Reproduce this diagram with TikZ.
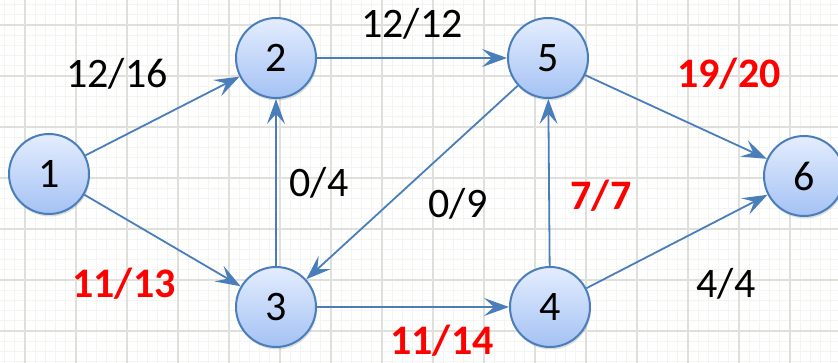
\documentclass[tikz,border=0pt]{standalone}
\usepackage{fontspec}
\setmainfont{Carlito}
\usetikzlibrary{arrows.meta,shadows}
\definecolor{edgeblue}{HTML}{4A7EBB}
\definecolor{nodetop}{HTML}{E4EDFE}
\definecolor{nodebot}{HTML}{A4C2F4}
\definecolor{gridmaj}{HTML}{E0E0DA}
\definecolor{gridmin}{HTML}{F4F4F0}
\begin{document}
\begin{tikzpicture}[x=1pt,y=-1pt,
  vert/.style={circle, draw=edgeblue, line width=2pt, minimum size=80pt, inner sep=0pt,
    top color=nodetop, bottom color=nodebot,
    drop shadow={opacity=0.25, shadow xshift=1pt, shadow yshift=-2.5pt},
    font=\fontsize{42}{46}\selectfont},
  flow/.style={draw=edgeblue, line width=1.8pt, -{Stealth[length=25pt,width=18pt,inset=10pt]}},
  lab/.style={anchor=base, inner sep=0pt, font=\fontsize{42}{46}\selectfont},
  redlab/.style={lab, text=red, font=\fontsize{42}{46}\selectfont\bfseries}]
\useasboundingbox (0,0) rectangle (838,363);
\clip (0,0) rectangle (838,363);
\fill[white] (0,0) rectangle (838,363);
% minor grid
\foreach \i in {0,...,85} {
  \draw[gridmin, line width=0.8pt] ({25+10.2*(\i-2)},0) -- ++(0,363);
}
\foreach \i in {0,...,37} {
  \draw[gridmin, line width=0.8pt] (0,{25+10.2*(\i-2)}) -- ++(838,0);
}
% major grid
\foreach \i in {0,...,16} {
  \draw[gridmaj, line width=1.4pt] ({25+51*\i},0) -- ++(0,363);
}
\foreach \i in {0,...,7} {
  \draw[gridmaj, line width=1.4pt] (0,{25+51*\i}) -- ++(838,0);
}
% vertices
\node[vert] (n1) at (49,174) {1};
\node[vert] (n2) at (276,58) {2};
\node[vert] (n3) at (276,307) {3};
\node[vert] (n4) at (550,307) {4};
\node[vert] (n5) at (548,58) {5};
\node[vert] (n6) at (804,176) {6};
% edges
\draw[flow] (n1) -- (n2);
\draw[flow] (n1) -- (n3);
\draw[flow] (n2) -- (n5);
\draw[flow] (n3) -- (n2);
\draw[flow] (n5) -- (n3);
\draw[flow] (n3) -- (n4);
\draw[flow] (n4) -- (n5);
\draw[flow] (n5) -- (n6);
\draw[flow] (n4) -- (n6);
% labels
\node[lab] (l12) at (117,88) {12/16};
\node[lab] (l25) at (412,38) {12/12};
\node[redlab] (l56) at (729,88) {19/20};
\node[lab] (l32) at (319,197) {0/4};
\node[lab] (l53) at (458,218) {0/9};
\node[redlab] (l45) at (601,210) {7/7};
\node[redlab] (l13) at (124,298) {11/13};
\node[lab] (l46) at (726,298) {4/4};
\node[redlab] (l34) at (442,355) {11/14};
\end{tikzpicture}
\end{document}
